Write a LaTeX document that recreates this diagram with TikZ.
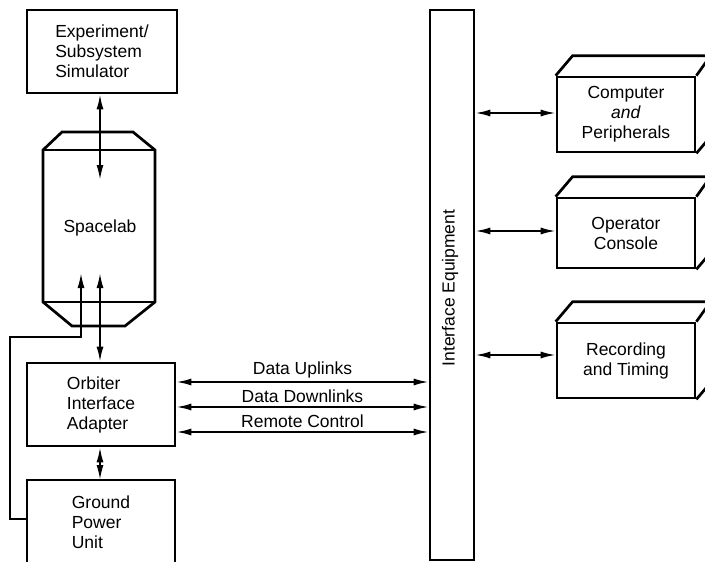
\documentclass[tikz,border=0pt]{standalone}
\usepackage{fontspec}
\setmainfont{Liberation Sans}
\usetikzlibrary{arrows.meta}
\begin{document}
\begin{tikzpicture}[x=1pt,y=-1pt,
  box/.style={draw,line width=2.7pt,inner sep=0pt,font=\fontsize{17.5}{20}\selectfont},
  txt/.style={font=\fontsize{17.5}{20}\selectfont,inner sep=0pt},
  outline/.style={line width=2.7pt,line join=miter},
  con/.style={line width=1.8pt,{Latex[length=15pt,width=7pt]}-{Latex[length=15pt,width=7pt]}},
  oneway/.style={line width=1.8pt,-{Latex[length=15pt,width=7pt]}},
  thin/.style={line width=1.8pt}]
\useasboundingbox (0,0) rectangle (705,562);
\clip (0,0) rectangle (705,562);

% Experiment / Subsystem Simulator
\node[box,minimum width=150pt,minimum height=83pt,align=left] (exp) at (102,51.5) {Experiment/\\Subsystem\\Simulator};

% Spacelab
\draw[outline] (62,132) -- (133,132) -- (155,150) -- (155,302) -- (125,326) -- (72,326) -- (43,302) -- (43,150) -- cycle;
\draw[outline] (43,150) -- (155,150);
\draw[outline] (43,302) -- (155,302);
\node[txt] (spl) at (100,228) {Spacelab};
\coordinate (slin) at (100,180);
\coordinate (slbot) at (100,273);
\coordinate (slbotl) at (81,273);

% Orbiter Interface Adapter
\node[box,minimum width=148pt,minimum height=83pt,align=left] (oia) at (101,404.5) {Orbiter\\Interface\\Adapter};

% Ground Power Unit (open at the bottom)
\draw[outline] (27,580) -- (27,480) -- (175,480) -- (175,580);
\node[txt,align=left] (gpu) at (101,522) {Ground\\Power\\Unit};
\coordinate (gputop) at (100,480);
\coordinate (gpuleft) at (27,519);

% Interface Equipment
\node[draw,line width=2.7pt,minimum width=44pt,minimum height=550pt,inner sep=0pt] (ie) at (452,285) {};
\node[txt,rotate=90] (ielabel) at (450,288) {Interface Equipment};

% Right-hand 3D boxes
\node[box,minimum width=138pt,minimum height=75pt,align=center] (cmp) at (626,114.5) {Computer\\\textit{and}\\Peripherals};
\node[box,minimum width=138pt,minimum height=70pt,align=center] (opc) at (626,233) {Operator\\Console};
\node[box,minimum width=138pt,minimum height=75pt,align=center] (rec) at (626,360.5) {Recording\\and Timing};
\foreach \b in {cmp,opc,rec}{
  \draw[outline,line join=round] (\b.north west) -- ++(17,-20) -- ++(138,0) -- (\b.north east);
  \draw[outline,line join=round] (\b.south east) -- ++(17,-20) -- ++(0,-75);
}

% Connectors
\draw[con] (slin |- exp.south) -- (slin);
\draw[con] (slbot |- oia.north) -- (slbot);
\draw[thin] (gpuleft) -- (10,519) -- (10,337) -- (81,337) -- (slbotl |- 0,337);
\draw[oneway] (81,338) -- (slbotl);
\draw[con] (gputop |- oia.south) -- (gputop);

\draw[con] (oia.east |- 0,382) -- (ie.west |- 0,382) node[midway,above=3pt,txt] {Data Uplinks};
\draw[con] (oia.east |- 0,407) -- (ie.west |- 0,407) node[midway,above=3pt,txt] {Data Downlinks};
\draw[con] (oia.east |- 0,432) -- (ie.west |- 0,432) node[midway,above=3pt,txt] {Remote Control};

\draw[con] (ie.east |- 0,113) -- (cmp.west |- 0,113);
\draw[con] (ie.east |- 0,231) -- (opc.west |- 0,231);
\draw[con] (ie.east |- 0,355) -- (rec.west |- 0,355);
\end{tikzpicture}
\end{document}
